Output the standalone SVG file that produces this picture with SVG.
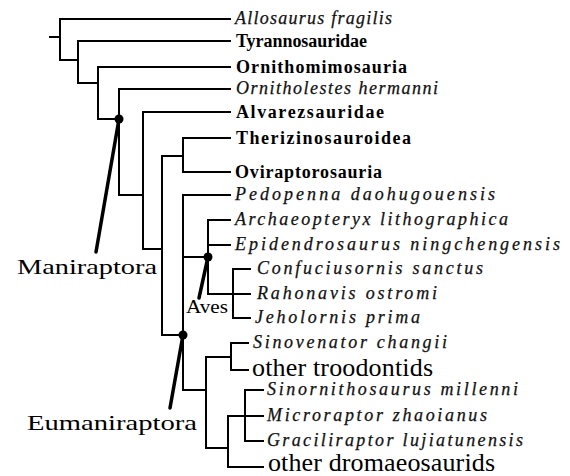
<svg xmlns="http://www.w3.org/2000/svg" width="570" height="476" viewBox="0 0 570 476">
<style>
.br{fill:none;stroke:#000;stroke-width:2;stroke-linecap:square}
.pt{fill:none;stroke:#000;stroke-width:3.5;stroke-linecap:round}
.it{font-family:"Liberation Serif","Times New Roman",serif;font-style:italic;font-size:18px;fill:#111;stroke:#111;stroke-width:0.25}
.bd{font-family:"Liberation Serif","Times New Roman",serif;font-weight:bold;font-size:18px;fill:#000}
.rg{font-family:"Liberation Serif","Times New Roman",serif;font-size:26px;fill:#000}
.cl{font-family:"Liberation Serif","Times New Roman",serif;font-size:21px;fill:#000}
</style>
<rect width="570" height="476" fill="#fff"/>
<g id="connectors">
<path class="br" d="M50,37 H60"/>
<path class="br" d="M230,19 H60 V60 H78"/>
<path class="br" d="M230,41 H78 V83 H98"/>
<path class="br" d="M230,67 H98 V119 H119"/>
<path class="br" d="M230,89 H119 V195 H143"/>
<path class="br" d="M230,112 H143 V249 H162"/>
<path class="br" d="M183,156 H162 V335 H183"/>
<path class="br" d="M230,138 H183 V172 H230"/>
<path class="br" d="M230,195 H183 V390 H206"/>
<path class="br" d="M183,257 H208"/>
<path class="br" d="M230,220 H208 V294 H250"/>
<path class="br" d="M230,245 H208"/>
<path class="br" d="M250,269 H233 V318 H250"/>
<path class="br" d="M231,357 H206 V448 H228"/>
<path class="br" d="M248,343 H231 V370 H248"/>
<path class="br" d="M263,416 H228 V467 H263"/>
<path class="br" d="M263,390 H245 V441 H263"/>
<path class="pt" d="M119,119 L96,252"/>
<path class="pt" d="M183,335 L170,408"/>
<path class="pt" d="M208,257 L199,298"/>
<circle cx="119" cy="119" r="4.5"/>
<circle cx="208" cy="257" r="4.5"/>
<circle cx="183" cy="335" r="4.5"/>
</g>
<g id="allosaurus"><text class="it" x="235" y="24" textLength="157" lengthAdjust="spacing">Allosaurus fragilis</text></g>
<g id="tyrannosauridae"><text class="bd" x="236" y="47" textLength="131" lengthAdjust="spacing">Tyrannosauridae</text></g>
<g id="ornithomimosauria"><text class="bd" x="236" y="73" textLength="171" lengthAdjust="spacing">Ornithomimosauria</text></g>
<g id="ornitholestes"><text class="it" x="236" y="94" textLength="202" lengthAdjust="spacing">Ornitholestes hermanni</text></g>
<g id="alvarezsauridae"><text class="bd" x="236" y="118" textLength="148" lengthAdjust="spacing">Alvarezsauridae</text></g>
<g id="therizinosauroidea"><text class="bd" x="236" y="144" textLength="175" lengthAdjust="spacing">Therizinosauroidea</text></g>
<g id="oviraptorosauria"><text class="bd" x="235" y="178" textLength="147" lengthAdjust="spacing">Oviraptorosauria</text></g>
<g id="pedopenna"><text class="it" x="235" y="200" textLength="260" lengthAdjust="spacing">Pedopenna daohugouensis</text></g>
<g id="archaeopteryx"><text class="it" x="235" y="225" textLength="273" lengthAdjust="spacing">Archaeopteryx lithographica</text></g>
<g id="epidendrosaurus"><text class="it" x="235" y="250" textLength="325" lengthAdjust="spacing">Epidendrosaurus ningchengensis</text></g>
<g id="confuciusornis"><text class="it" x="257" y="274" textLength="226" lengthAdjust="spacing">Confuciusornis sanctus</text></g>
<g id="rahonavis"><text class="it" x="257" y="299" textLength="180" lengthAdjust="spacing">Rahonavis ostromi</text></g>
<g id="jeholornis"><text class="it" x="255" y="323" textLength="165" lengthAdjust="spacing">Jeholornis prima</text></g>
<g id="sinovenator"><text class="it" x="253" y="348" textLength="194" lengthAdjust="spacing">Sinovenator changii</text></g>
<g id="troodontids"><text class="rg" x="252" y="376" textLength="181" lengthAdjust="spacing">other troodontids</text></g>
<g id="sinornithosaurus"><text class="it" x="267" y="395" textLength="251" lengthAdjust="spacing">Sinornithosaurus millenni</text></g>
<g id="microraptor"><text class="it" x="267" y="421" textLength="220" lengthAdjust="spacing">Microraptor zhaoianus</text></g>
<g id="graciliraptor"><text class="it" x="267" y="446" textLength="256" lengthAdjust="spacing">Graciliraptor lujiatunensis</text></g>
<g id="dromaeosaurids"><text class="rg" x="268" y="471" textLength="227" lengthAdjust="spacing">other dromaeosaurids</text></g>
<g id="maniraptora"><text class="cl" x="17" y="274" textLength="140" lengthAdjust="spacingAndGlyphs">Maniraptora</text></g>
<g id="eumaniraptora"><text class="cl" x="27" y="430" textLength="170" lengthAdjust="spacingAndGlyphs">Eumaniraptora</text></g>
<g id="aves"><text class="cl" x="186" y="313" style="font-size:19px" textLength="42" lengthAdjust="spacingAndGlyphs">Aves</text></g>
</svg>
